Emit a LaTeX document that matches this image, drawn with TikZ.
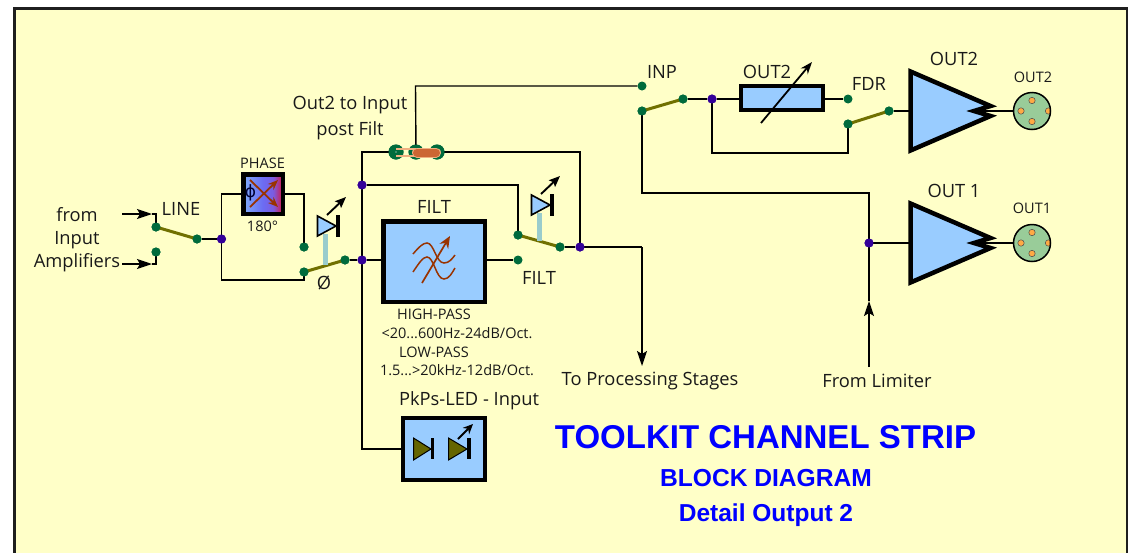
\documentclass[tikz,border=0pt]{standalone}
\usepackage{fontspec}
\setmainfont{Open Sans}
\newfontfamily\headfont{Liberation Sans}
\newfontfamily\phifont{DejaVu Sans}
\usetikzlibrary{arrows.meta}
\definecolor{bgy}{HTML}{FFFFC8}
\definecolor{sky}{HTML}{99CCFF}
\definecolor{term}{HTML}{006B3C}
\definecolor{junc}{HTML}{330099}
\definecolor{swol}{HTML}{707000}
\definecolor{ledbar}{HTML}{99CCCC}
\definecolor{brn}{HTML}{993300}
\definecolor{jmp}{HTML}{CC6633}
\definecolor{jmpl}{HTML}{F0B080}
\definecolor{xlrg}{HTML}{99CC99}
\definecolor{pincol}{HTML}{FFAA44}
\definecolor{hblue}{HTML}{0000FF}
\pgfdeclarehorizontalshading{phs}{100bp}{rgb(0bp)=(.5,.68,.98);rgb(25bp)=(.5,.68,.98);rgb(50bp)=(.42,.42,.95);rgb(63bp)=(.48,.36,.88);rgb(75bp)=(.85,.08,.25);rgb(100bp)=(.85,.08,.25)}
\tikzset{
  x=1pt,y=-1pt,
  wire/.style={draw=black,line width=1.4pt},
  tip/.style={-{Stealth[length=15pt,width=10pt,inset=3pt]}},
  sw/.style={draw=swol,line width=3pt},
  tm/.style={circle,fill=term,inner sep=0pt,minimum size=9pt},
  jn/.style={circle,fill=junc,inner sep=0pt,minimum size=9pt},
  jmpdot/.style={circle,fill=term,inner sep=0pt,minimum size=15pt},
  lab/.style={inner sep=0pt,font=\fontsize{18.3}{23}\selectfont,text=black!90},
  smalltxt/.style={inner sep=0pt,font=\fontsize{14.5}{17}\selectfont,text=black!90},
  box/.style={draw=black,line width=4.5pt,fill=sky,inner sep=0pt},
  amp/.style={draw=black,line width=4.5pt,fill=sky,miter limit=12},
}
\newcommand{\ledup}[2]{% x,y of triangle apex
  \draw[fill=sky,draw=black,line width=1.6pt] (#1-18.5,#2-10) -- (#1,#2) -- (#1-18.5,#2+10) -- cycle;
  \fill[black] (#1,#2-11) rectangle (#1+3.7,#2+10.5);
  \draw[black,line width=1.9pt,-{Stealth[length=11pt,width=9pt,inset=2pt]}] (#1-9,#2-11) -- (#1+10,#2-29);
}
\newcommand{\xlrconn}[2]{%
  \fill[xlrg] (#1,#2) circle (18.5pt);
  \begin{scope}
    \clip (#1,#2) circle (18.5pt);
    \foreach \dx/\dy in {0/-10.5,-11/0,0/10.5,16.5/0}
      \draw[fill=pincol,draw=black!70,line width=.5pt] (#1+\dx,#2+\dy) circle (3.2pt);
  \end{scope}
  \draw[draw=black,line width=1.5pt] (#1,#2) circle (18.5pt);
}
\newcommand{\ampli}[1]{%
  \draw[amp] (910.5,#1-39.5) -- (990.5,#1-5) -- (974,#1) -- (990.5,#1+5) -- (910.5,#1+39.5) -- cycle;
}
\begin{document}
\begin{tikzpicture}
\useasboundingbox (0,0) rectangle (1133,552);
\fill[white] (0,0) rectangle (1133,552);
\draw[fill=bgy,draw=black!88,line width=2.7pt] (14.5,8.5) rectangle (1127,560);

% named coordinates
\coordinate (in1) at (122,214);
\coordinate (in2) at (122,264);
\node[tm] (lineA) at (156,227) {};
\node[tm] (lineB) at (156,252) {};
\node[tm] (lineC) at (197,239) {};
\node[jn] (j1) at (221.5,239) {};
\node[box,minimum width=39.5pt,minimum height=39.5pt,shading=phs] (phase) at (263,194) {};
\node[tm] (phsA) at (304,247) {};
\node[tm] (phsB) at (304,272) {};
\node[tm] (phsC) at (345,260) {};
\node[jn] (j2) at (362,260) {};
\node[jn] (j3) at (362,185) {};
\coordinate (busTop) at (362,152);
\coordinate (busBot) at (362,449);
\node[box,minimum width=101.5pt,minimum height=80.5pt] (filt) at (434,261.5) {};
\node[tm] (filtOut) at (518,260) {};
\node[tm] (fsA) at (518,235) {};
\node[tm] (fsB) at (560,247) {};
\node[jn] (j4) at (580,247) {};
\coordinate (j3r) at (518,185);
\coordinate (topR) at (580,152);
\coordinate (procC) at (642,247);
\coordinate (proc) at (642,366);
\node[jmpdot] (jpA) at (396,152) {};
\node[jmpdot] (jpB) at (416,152) {};
\node[jmpdot] (jpC) at (437,152) {};
\coordinate (upL) at (415.5,86);
\node[tm] (inpA) at (642,86) {};
\node[tm] (inpB) at (642,111) {};
\node[tm] (inpC) at (683,99) {};
\node[jn] (j5) at (712,99) {};
\node[box,minimum width=82pt,minimum height=24pt] (fader) at (782,98) {};
\node[tm] (fdrA) at (848,99) {};
\node[tm] (fdrB) at (848,124) {};
\node[tm] (fdrC) at (889,111) {};
\coordinate (fdrBd) at (848,153);
\coordinate (j5d) at (712,153);
\coordinate (inpBd) at (642,193);
\coordinate (j6up) at (869,193);
\node[jn] (j6) at (869,243) {};
\coordinate (limit) at (869,367);
\coordinate (limtip) at (869,301);
\coordinate (o2in) at (910,111);
\coordinate (o1in) at (910,243);
\coordinate (o2nt) at (976,111);
\coordinate (o1nt) at (976,243);
\coordinate (o2out) at (1014,111);
\coordinate (o1out) at (1014,243);
\coordinate (ledIn) at (402,449);
\coordinate (arr1) at (152,214);
\coordinate (arr2) at (152,264);

% wires
\draw[wire,tip] (in1) -- (arr1);
\draw[wire] (arr1) -| (lineA.center);
\draw[wire,tip] (in2) -- (arr2);
\draw[wire] (arr2) -| (lineB.center);
\draw[wire] (lineC) -- (j1);
\draw[wire] (phase.west) -| (j1.center) |- (phsB.center |- 0,280) -- (phsB.center);
\draw[wire] (phase.east) -| (phsA.center);
\draw[wire] (phsC) -- (j2);
\draw[wire] (j2) -- (filt.west |- j2);
\draw[wire] (filt.east |- filtOut) -- (filtOut);
\draw[wire] (jpA.center) -- (busTop) -- (busBot) -- (ledIn);
\draw[wire] (j3) -- (j3r) -- (fsA.center);
\draw[wire] (jpC.center) -- (topR) -- (j4.center);
\draw[wire] (fsB) -- (j4);
\draw[wire] (j4.center) -- (procC);
\draw[wire,tip] (procC) -- (proc);
\draw[wire] (jpB.center) -- (upL) -- (inpA);
\draw[wire] (inpB.center) -- (inpBd) -- (j6up) -- (j6.center) -- (o1in);
\draw[wire] (inpC) -- (j5);
\draw[wire] (j5) -- (fader.west |- j5);
\draw[wire] (fader.east |- fdrA) -- (fdrA);
\draw[wire] (j5.center) -- (j5d) -- (fdrBd) -- (fdrB.center);
\draw[wire] (fdrC) -- (o2in);
\draw[wire,tip] (limit) -- (limtip);
\draw[wire] (limtip) -- (j6.center);

% switches
\draw[sw] (lineA.center) -- (lineC.center);
\draw[sw] (phsB.center) -- (phsC.center);
\draw[sw] (fsA.center) -- (fsB.center);
\draw[sw] (inpB.center) -- (inpC.center);
\draw[sw] (fdrB.center) -- (fdrC.center);
\node[tm] at (lineA) {};\node[tm] at (lineB) {};\node[tm] at (lineC) {};
\node[tm] at (phsA) {};\node[tm] at (phsB) {};\node[tm] at (phsC) {};
\node[tm] at (fsA) {};\node[tm] at (fsB) {};
\node[tm] at (inpB) {};\node[tm] at (inpC) {};
\node[tm] at (fdrB) {};\node[tm] at (fdrC) {};

% LEDs
\draw[ledbar,line width=4.5pt] (325.5,234) -- (325.5,265);
\ledup{336}{226}
\draw[ledbar,line width=4.5pt] (539.5,213) -- (539.5,241);
\ledup{550}{205}

% phase box content
\node[inner sep=0pt,font=\phifont\fontsize{17}{17}\selectfont,text=black!80!blue] (phi) at (250.5,193) {ϕ};
\draw[brn,line width=1.8pt,-{Stealth[length=10pt,width=8pt]}] (250,207) -- (278,180);
\draw[brn,line width=1.8pt,-{Stealth[length=10pt,width=8pt]}] (250,180) -- (278,207);

% filter glyph
\draw[brn,line width=1.5pt] (413,254) .. controls (419,247) and (423,243) .. (427,243) .. controls (434,243) and (436,263) .. (444,263) .. controls (449,263) and (452,259) .. (455,255);
\draw[brn,line width=1.5pt] (413,272) .. controls (419,263) and (423,257) .. (427,257) .. controls (434,257) and (436,279) .. (444,279) .. controls (449,279) and (452,273) .. (455,268);
\draw[brn,line width=1.7pt,-{Stealth[length=12pt,width=10pt]}] (422,283) -- (450,236);

% fader arrow
\draw[black,line width=1.8pt,-{Stealth[length=12pt,width=9pt]}] (761,123) -- (812,62);

% jumper
\node[jmpdot] at (jpA) {};\node[jmpdot] at (jpB) {};\node[jmpdot] at (jpC) {};
\fill[white] (jpA) circle (.7pt);
\draw[jmpl,line width=1.4pt] (jpA.center |- 0,149) -- (jpB.center |- 0,149);
\draw[jmpl,line width=1.4pt] (jpA.center |- 0,156) -- (jpB.center |- 0,156);
\draw[jmpl,line width=10pt,line cap=round] (417,152.5) -- (436,152.5);
\draw[jmp,line width=8pt,line cap=round] (417,152.5) -- (436,152.5);

% amplifiers
\ampli{111}
\ampli{243}
\draw[wire] (o2nt) -- (o2out);
\draw[wire] (o1nt) -- (o1out);
\xlrconn{1032}{111}
\xlrconn{1032}{243}

% PkPs box
\node[box,line width=4pt,minimum width=82pt,minimum height=62pt] (pk) at (444,449) {};
\draw[fill=swol!90!black,draw=black,line width=1pt] (413.5,438) -- (431,449) -- (413.5,460) -- cycle;
\fill[black] (430.5,438) rectangle (434,459);
\draw[fill=swol!90!black,draw=black,line width=1pt] (448.5,438) -- (467,449) -- (448.5,460) -- cycle;
\fill[black] (467,438) rectangle (471,459);
\draw[black,line width=1.9pt,-{Stealth[length=10pt,width=9pt]}] (458,439) -- (473,424);

% junction dots on top
\node[jn] at (j1) {};\node[jn] at (j2) {};\node[jn] at (j3) {};\node[jn] at (j4) {};\node[jn] at (j5) {};\node[jn] at (j6) {};

% labels
\node[lab,align=center] (tFrom) at (77,239.5) {from\\Input\\Amplifiers};
\node[lab] (tLine) at (181,209) {LINE};
\node[smalltxt] (tPhase) at (262.5,163) {PHASE};
\node[smalltxt] (t180) at (262.5,226) {180°};
\node[lab] (tPhi) at (324,283) {Ø};
\node[lab,align=center] (tO2I) at (350,118) {Out2 to Input\\[3pt]post Filt};
\node[lab] (tFilt) at (434,207) {FILT};
\node[lab] (tFilt2) at (539,278) {FILT};
\node[smalltxt] (t1) at (434,314) {HIGH-PASS};
\node[smalltxt] (t2) at (457,333) {<20...600Hz-24dB/Oct.};
\node[smalltxt] (t3) at (434,352) {LOW-PASS};
\node[smalltxt] (t4) at (457,370) {1.5...>20kHz-12dB/Oct.};
\node[lab] (tPk) at (469,401) {PkPs-LED - Input};
\node[lab] (tInp) at (662,72) {INP};
\node[lab] (tOut2) at (767,72) {OUT2};
\node[lab] (tFdr) at (869,84) {FDR};
\node[lab] (tAmp2) at (954,59) {OUT2};
\node[lab] (tAmp1) at (954,191) {OUT 1};
\node[smalltxt] (tX2) at (1033,77) {OUT2};
\node[smalltxt] (tX1) at (1032,208) {OUT1};
\node[lab] (tProc) at (650,381) {To Processing Stages};
\node[lab] (tLim) at (877,381) {From Limiter};
\node[inner sep=0pt,text=hblue,font=\headfont\bfseries\fontsize{33}{36}\selectfont] (h1) at (765.5,437) {TOOLKIT CHANNEL STRIP};
\node[inner sep=0pt,text=hblue,font=\headfont\bfseries\fontsize{24.6}{27}\selectfont] (h2) at (766,478) {BLOCK DIAGRAM};
\node[inner sep=0pt,text=hblue,font=\headfont\bfseries\fontsize{24.5}{27}\selectfont] (h3) at (766,515) {Detail Output 2};
\end{tikzpicture}
\end{document}
